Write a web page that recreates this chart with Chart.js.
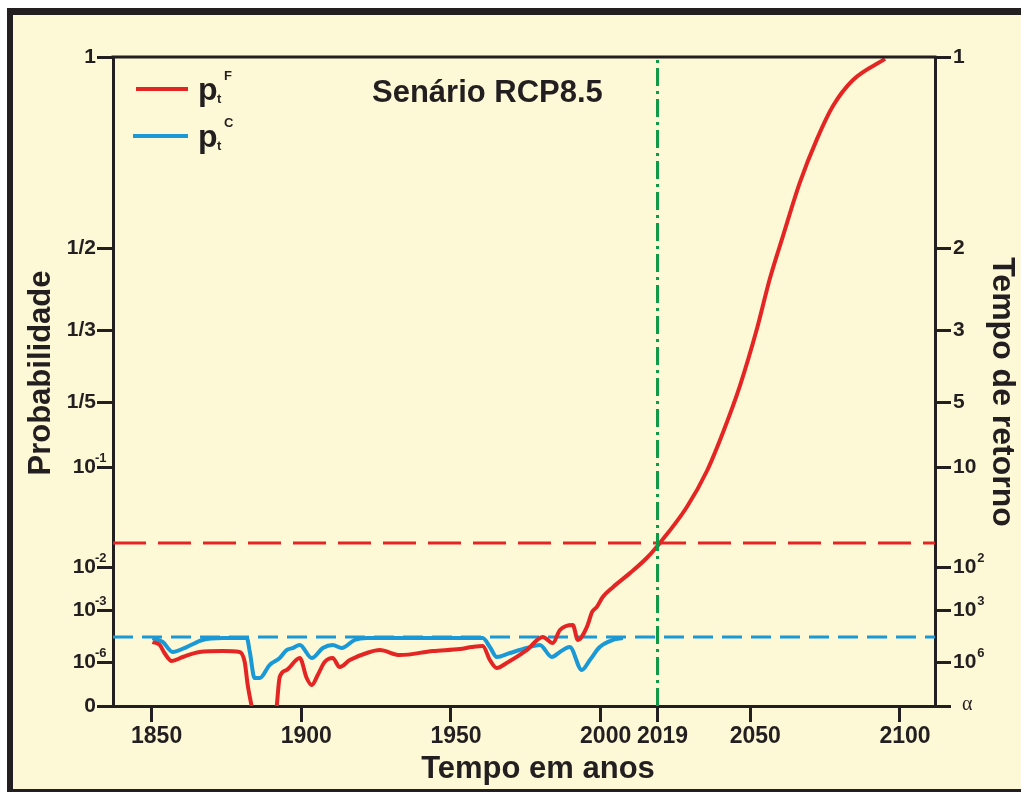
<!DOCTYPE html>
<html><head><meta charset="utf-8">
<script src="https://cdn.jsdelivr.net/npm/chart.js@4"></script>
<style>html,body{margin:0;padding:0;background:#fff;}#wrap{width:1021px;height:792px;position:relative;}</style>
</head><body><div id="wrap"><canvas id="c" width="1021" height="792"></canvas></div>
<script>
// ---------- data ----------
const yearsF = [1850.3,1852.7,1854.3,1856.7,1860.4,1866.0,1873.7,1879.4,1881.1,1882.1,1883.4,1887,1891.8,1892.8,1895.1,1899.5,1901.8,1903.5,1905.5,1907.8,1910.5,1912.8,1916.2,1921.9,1926.2,1932.9,1943.9,1953.0,1957.0,1960.6,1963.0,1965.3,1968.6,1975.3,1980.7,1984.0,1986.4,1990.7,1992.4,1995.4,1997.2,1998.7,2000.7,2004.1,2009.8,2015.4,2019.8,2028.8,2035.5,2040.9,2046.5,2052.2,2056.5,2060.9,2066.6,2072.3,2077.6,2084.3,2095.0];
const probF  = [1.43e-5,9.6e-6,3.3e-6,1.14e-6,1.94e-6,3.8e-6,4.3e-6,3.8e-6,1.0e-6,2.7e-8,0,null,0,9.5e-8,2.85e-7,1.7e-6,8.1e-8,2.7e-8,1.3e-7,1.0e-6,1.7e-6,4.6e-7,1.3e-6,3.3e-6,4.9e-6,2.5e-6,4.3e-6,5.6e-6,7.3e-6,8.4e-6,1.3e-6,3.9e-7,8.6e-7,4.9e-6,2.8e-5,1.25e-5,7.0e-5,1.36e-4,1.86e-5,1.04e-4,8.0e-4,1.17e-3,2.0e-3,3.4e-3,7.2e-3,0.0123,0.0174,0.0398,0.0912,0.145,0.224,0.335,0.429,0.522,0.635,0.743,0.837,0.920,0.993];
const yearsC = [1850.3,1853.7,1857.0,1861.7,1867.0,1873.7,1881.8,1882.8,1884.4,1886.1,1889.4,1892.8,1895.1,1897.1,1899.5,1903.5,1907.2,1910.5,1913.5,1917.8,1921.9,1960.6,1963.0,1965.3,1969.7,1975.3,1979.7,1983.7,1986.4,1989.7,1993.7,1996.4,1999.7,2004.1,2007.4];
const probC  = [2.4e-5,1.43e-5,3.8e-6,7.3e-6,1.86e-5,2.4e-5,2.4e-5,3.8e-6,8.1e-8,8.1e-8,6.2e-7,1.7e-6,4.9e-6,6.4e-6,9.6e-6,1.7e-6,6.4e-6,9.6e-6,6.4e-6,1.86e-5,2.4e-5,2.4e-5,7.3e-6,1.94e-6,3.3e-6,6.4e-6,9.6e-6,1.94e-6,3.8e-6,7.3e-6,2.85e-7,1.3e-6,7.3e-6,1.86e-5,2.4e-5];
const thresholdF = 0.0174;
const thresholdC = 2.8e-5;
const currentYear = 2019;
const xTicks = [1850,1900,1950,2000,2019,2050,2100];
const probTicks = [0,1e-6,1e-3,1e-2,1e-1,1/5,1/3,1/2,1];
const probTickLabels = ['0','10^-6','10^-3','10^-2','10^-1','1/5','1/3','1/2','1'];
const returnTickLabels = ['α','10^6','10^3','10^2','10','5','3','2','1'];
const legendLabels = [['p','t','F'],['p','t','C']];
const titleText = 'Senário RCP8.5';
const xTitle = 'Tempo em anos';
const yTitle = 'Probabilidade';
const y2Title = 'Tempo de retorno';

// ---------- nonlinear probability axis (piecewise-log) ----------
const axisStops = [[1e-9,0],[1e-6,44],[1e-3,96],[1e-2,139],[0.1,239],[0.2,304],[1/3,376],[0.5,458],[1,649]];
const U_MAX = axisStops[axisStops.length-1][1];
function pToU(p){
  if(p===null||p===undefined) return null;
  if(p<=axisStops[0][0]) return 0;
  for(let i=1;i<axisStops.length;i++){
    const [p0,u0]=axisStops[i-1],[p1,u1]=axisStops[i];
    if(p<=p1){const f=(Math.log10(p)-Math.log10(p0))/(Math.log10(p1)-Math.log10(p0));return u0+f*(u1-u0);}
  }
  return U_MAX;
}
const X_MIN=1837.1, X_MAX=2111.7;
const RED='#e32624', BLUE='#1b98d6', GREEN='#109a48', INK='#231f20', BG='#fdf8d6';
const FAM='"Liberation Sans", Arial, sans-serif';

const pts=(xs,ps)=>xs.map((x,i)=>({x:x,y:pToU(ps[i])}));

const framePlugin={
  id:'frame',
  beforeDraw(chart){
    const c=chart.ctx;c.save();
    c.fillStyle='#ffffff';c.fillRect(0,0,chart.width,chart.height);
    c.fillStyle=BG;c.fillRect(7,8,chart.width-7,chart.height-8);
    c.fillStyle=INK;
    c.fillRect(7,8,chart.width-7,7);
    c.fillRect(7,8,6,chart.height-8);
    c.fillRect(7,chart.height-3,chart.width-7,3);
    c.restore();
  },
  afterDraw(chart){
    const c=chart.ctx,a=chart.chartArea;c.save();
    c.strokeStyle=INK;c.lineWidth=3;
    c.beginPath();c.moveTo(a.left-1.5,a.top);c.lineTo(a.right+1.5,a.top);c.stroke();
    // y tick labels with superscripts
    const ys=chart.scales.y;
    function rich(txt,x,y,align){
      const parts=txt.split('^');
      c.textBaseline='middle';
      if(txt==='α'){c.font='20px "Liberation Serif", serif';c.textAlign='left';c.fillText(txt,x+9,y-1);return;}
      c.font='bold 21px '+FAM;
      if(align==='right'){
        c.textAlign='right';c.fillText(parts[0],x,y);
        if(parts[1]){c.font='bold 13px '+FAM;c.textAlign='left';c.fillText(parts[1],x-1,y-9);}
      } else {
        c.textAlign='left';c.fillText(parts[0],x,y);
        const w=c.measureText(parts[0]).width;
        if(parts[1]){c.font='bold 13px '+FAM;c.fillText(parts[1],x+w+1,y-9);}
      }
    }
    c.fillStyle=INK;
    probTicks.forEach((p,i)=>{
      const py=ys.getPixelForValue(pToU(p));
      rich(probTickLabels[i],96,py,'right');
      rich(returnTickLabels[i],953,py,'left');
    });
    // titles
    c.fillStyle=INK;c.font='bold 31px '+FAM;c.textBaseline='alphabetic';
    c.textAlign='left';c.fillText(titleText,372,102);
    c.textAlign='center';c.fillText(xTitle,538,778);
    c.save();c.translate(50,373);c.rotate(-Math.PI/2);c.fillText(yTitle,0,0);c.restore();
    c.font='bold 32px '+FAM;
    c.save();c.translate(993,392);c.rotate(Math.PI/2);c.fillText(y2Title,0,0);c.restore();
    // legend
    const legCols=[RED,BLUE], legY=[89,136];
    legendLabels.forEach((lab,i)=>{
      c.strokeStyle=legCols[i];c.lineWidth=4;
      c.beginPath();c.moveTo(i?133:136,legY[i]);c.lineTo(188,legY[i]);c.stroke();
      c.fillStyle=INK;c.textAlign='left';c.textBaseline='alphabetic';
      c.font='bold 32px '+FAM;c.fillText(lab[0],198,legY[i]+11);
      c.font='bold 13px '+FAM;c.fillText(lab[1],217,legY[i]+14);
      c.font='bold 13px '+FAM;c.fillText(lab[2],224,legY[i]-9);
    });
    c.restore();
  }
};

const tickGrid={display:true,drawOnChartArea:false,drawTicks:true,tickLength:16,lineWidth:3,color:INK};
new Chart(document.getElementById('c'),{
  type:'line',
  data:{datasets:[
    {label:'2019',data:[{x:currentYear,y:0},{x:currentYear,y:U_MAX}],borderColor:GREEN,borderWidth:3,borderDash:[18,5,3,5],pointRadius:0,tension:0,order:0},
    {label:'pF',data:pts(yearsF,probF),borderColor:RED,borderWidth:4,pointRadius:0,cubicInterpolationMode:'monotone',spanGaps:false,order:1},
    {label:'limiar F',data:[{x:X_MIN,y:pToU(thresholdF)},{x:X_MAX,y:pToU(thresholdF)}],borderColor:RED,borderWidth:3,borderDash:[33,12],pointRadius:0,tension:0,order:2},
    {label:'limiar C',data:[{x:X_MIN,y:pToU(thresholdC)},{x:X_MAX,y:pToU(thresholdC)}],borderColor:BLUE,borderWidth:3,borderDash:[20,9],pointRadius:0,tension:0,order:3},
    {label:'pC',data:pts(yearsC,probC),borderColor:BLUE,borderWidth:4,pointRadius:0,cubicInterpolationMode:'monotone',order:4}
  ]},
  options:{
    responsive:false,animation:false,devicePixelRatio:1,
    layout:{padding:{top:57,left:0,right:0,bottom:0}},
    plugins:{legend:{display:false},tooltip:{enabled:false},title:{display:false}},
    scales:{
      x:{type:'linear',position:'bottom',min:X_MIN,max:X_MAX,
        afterFit(s){s.height=86;},
        afterBuildTicks(s){s.ticks=xTicks.map(v=>({value:v}));},
        ticks:{font:{family:FAM,size:23,weight:'bold'},color:INK,padding:1,labelOffset:5,autoSkip:false,maxRotation:0,callback:v=>String(v)},
        grid:tickGrid,border:{display:true,width:3,color:INK}},
      y:{type:'linear',position:'left',min:0,max:U_MAX,
        afterFit(s){s.width=113;},
        afterBuildTicks(s){s.ticks=probTicks.map(p=>({value:pToU(p)}));},
        ticks:{display:false},
        grid:tickGrid,border:{display:true,width:3,color:INK}},
      y2:{type:'linear',position:'right',min:0,max:U_MAX,
        afterFit(s){s.width=86;},
        afterBuildTicks(s){s.ticks=probTicks.map(p=>({value:pToU(p)}));},
        ticks:{display:false},
        grid:tickGrid,border:{display:true,width:3,color:INK}}
    }
  },
  plugins:[framePlugin]
});
</script></body></html>
